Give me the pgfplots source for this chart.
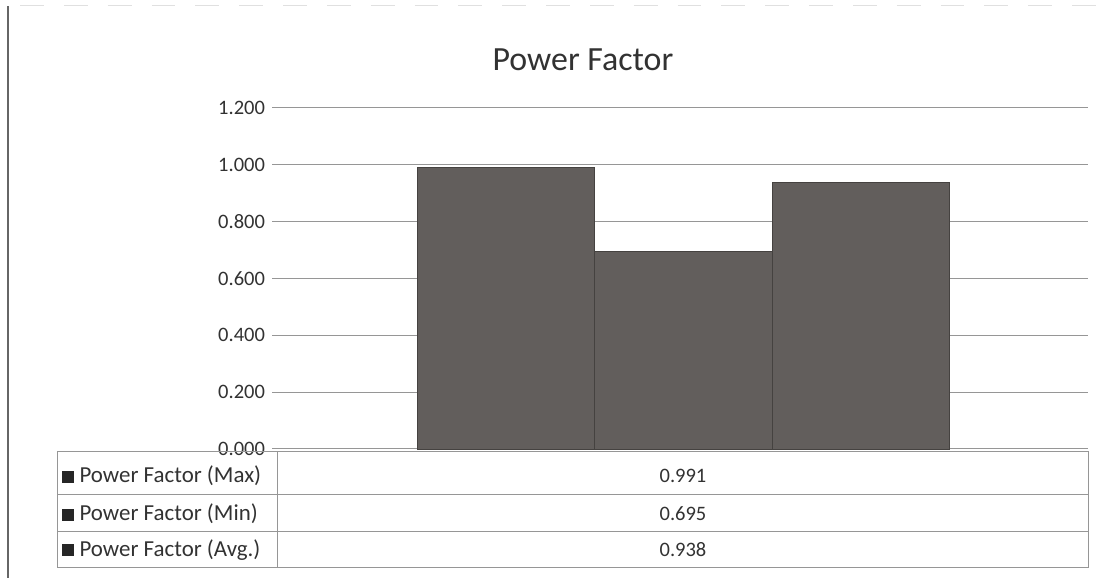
\documentclass[border=0pt]{standalone}
\usepackage{pgfplots}
\pgfplotsset{compat=1.18}
\usepackage{fontspec}
\setmainfont{Carlito}
\definecolor{barfill}{RGB}{98,94,92}
\definecolor{gridc}{RGB}{150,150,150}
\definecolor{txt}{RGB}{50,50,50}
\begin{document}
\begin{tikzpicture}[x=0.5bp,y=0.5bp]
% page frame = 1111 x 578 px, y counted from the bottom
\path (0,0) rectangle (1111,578);
\draw[black!60, line width=0.6pt] (8,0) -- (8,572);
\draw[black!12, line width=0.4pt, dash pattern=on 12pt off 10pt] (20,573) -- (1100,573);

\node[font=\fontsize{17}{20}\selectfont, text=txt] at (583,518) {Power Factor};

\begin{axis}[
  at={(136bp,64.5bp)}, anchor=south west,
  width=408bp, height=170.5bp, scale only axis,
  xmin=-0.32, xmax=4.28, ymin=0, ymax=1.2,
  ytick={0,0.2,0.4,0.6,0.8,1.0,1.2},
  xtick=\empty,
  axis line style={draw=none},
  major tick length=0pt,
  ymajorgrids, grid style={gridc, line width=0.5pt},
  yticklabel style={/pgf/number format/.cd, fixed, fixed zerofill, precision=3, assume math mode=true},
  ticklabel style={font=\fontsize{10.3}{12}\selectfont, text=txt},
  clip=false,
]
\addplot[ybar, bar width=1, bar shift=0pt, fill=barfill, draw=barfill!70!black] coordinates {(1,0.991)};
\addplot[ybar, bar width=1, bar shift=0pt, fill=barfill, draw=barfill!70!black] coordinates {(2,0.695)};
\addplot[ybar, bar width=1, bar shift=0pt, fill=barfill, draw=barfill!70!black] coordinates {(3,0.938)};
\end{axis}

% data table below the plot
\draw[gridc, line width=0.5pt] (57,126) rectangle (1088,10);
\draw[gridc, line width=0.5pt] (57,83) -- (1088,83);
\draw[gridc, line width=0.5pt] (57,46) -- (1088,46);
\draw[gridc, line width=0.5pt] (277,126) -- (277,10);

\begin{scope}[every node/.style={font=\fontsize{11.5}{13}\selectfont, text=txt, anchor=west, inner sep=0pt}]
\node at (62,102) {\textcolor{black!85}{\rule{6bp}{6bp}} Power Factor (Max)};
\node at (62,64) {\textcolor{black!85}{\rule{6bp}{6bp}} Power Factor (Min)};
\node at (62,28) {\textcolor{black!85}{\rule{6bp}{6bp}} Power Factor (Avg.)};
\end{scope}
\begin{scope}[every node/.style={font=\fontsize{10.3}{12}\selectfont, text=txt, inner sep=0pt}]
\node at (683,102) {0.991};
\node at (683,64) {0.695};
\node at (683,28) {0.938};
\end{scope}
\end{tikzpicture}
\end{document}
